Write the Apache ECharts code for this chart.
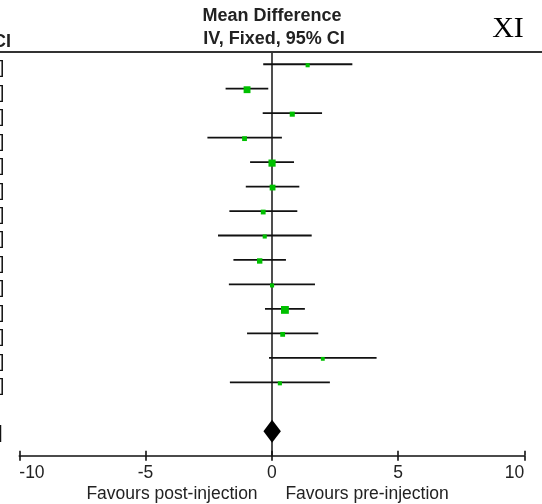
<!DOCTYPE html>
<html>
<head>
<meta charset="utf-8">
<script src="https://cdn.jsdelivr.net/npm/echarts@6/dist/echarts.min.js"></script>
<style>
  html, body { margin: 0; padding: 0; background: #fff; }
  #chart { width: 542px; height: 504px; }
</style>
</head>
<body>
<div id="chart"></div>
<script>
// Per-study mean differences (IV, fixed effect) with 95% CI bounds and weights (%)
const meanDiff = [1.42, -0.98, 0.81, -1.08, 0.01, 0.03, -0.34, -0.28, -0.48, 0.01, 0.52, 0.43, 2.02, 0.32];
const ciLower  = [-0.34, -1.83, -0.36, -2.55, -0.86, -1.03, -1.68, -2.13, -1.52, -1.70, -0.27, -0.98, -0.11, -1.66];
const ciUpper  = [3.19, -0.14, 1.99, 0.40, 0.88, 1.09, 1.01, 1.58, 0.56, 1.71, 1.31, 1.84, 4.15, 2.30];
const weights  = [4.2, 11.8, 6.5, 5.8, 12.8, 8.4, 5.8, 4.2, 7.3, 4.2, 15.4, 5.8, 3.7, 4.2];

// Pooled estimate
const totalMD = [0.01];
const totalLower = [-0.33];
const totalUpper = [0.36];

// Axis ticks and captions
const xTicks = [-10, -5, 0, 5, 10];
const favourLeft = 'Favours post-injection';
const favourRight = 'Favours pre-injection';
const plotTitle = ['Mean Difference', 'IV, Fixed, 95% CI'];
const panelTag = 'XI';

const FONT = '"Liberation Sans", Arial, Helvetica, sans-serif';
const GREEN = '#00c000';
const INK = '#111';
const TOTAL_ROW = meanDiff.length + 2;

const fmt = v => v.toFixed(2);
const ciText = (m, l, u) => `${fmt(m)} [${fmt(l)}, ${fmt(u)}]`;

const studyData = meanDiff.map((m, i) => [ciLower[i], ciUpper[i], m, weights[i], i + 1]);
const totalData = totalMD.map((m, i) => [totalLower[i], totalUpper[i], m, 100, TOTAL_ROW]);

const chart = echarts.init(document.getElementById('chart'), null, { renderer: 'canvas' });

// One study row: CI whisker, weighted square, and the estimate text in the left column
function renderStudy(params, api) {
  const row = api.value(4);
  const pLo = api.coord([api.value(0), row]);
  const pHi = api.coord([api.value(1), row]);
  const pMd = api.coord([api.value(2), row]);
  const s = 2 * Math.sqrt(api.value(3));
  return {
    type: 'group',
    children: [
      { type: 'line', shape: { x1: pLo[0], y1: pLo[1], x2: pHi[0], y2: pHi[1] },
        style: { stroke: INK, lineWidth: 1.8 } },
      { type: 'rect', shape: { x: pMd[0] - s / 2, y: pMd[1] - s / 2 + 1, width: s, height: s },
        style: { fill: GREEN } },
      { type: 'text', x: 4.3, y: pMd[1] + 4,
        style: { text: ciText(api.value(2), api.value(0), api.value(1)),
                 align: 'right', verticalAlign: 'middle',
                 font: '18px ' + FONT, fill: INK } }
    ]
  };
}

// Pooled row: diamond spanning the pooled CI
function renderTotal(params, api) {
  const row = api.value(4);
  const pLo = api.coord([api.value(0), row]);
  const pHi = api.coord([api.value(1), row]);
  const pMd = api.coord([api.value(2), row]);
  const h = 11.5;
  return {
    type: 'group',
    children: [
      { type: 'polygon',
        shape: { points: [[pLo[0], pMd[1]], [pMd[0], pMd[1] - h], [pHi[0], pMd[1]], [pMd[0], pMd[1] + h]] },
        style: { fill: '#000' } },
      { type: 'text', x: 2.2, y: pMd[1] + 2,
        style: { text: ciText(api.value(2), api.value(0), api.value(1)),
                 align: 'right', verticalAlign: 'middle',
                 font: 'bold 18px ' + FONT, fill: INK } }
    ]
  };
}

const xBase = {
  type: 'value', min: xTicks[0], max: xTicks[xTicks.length - 1],
  interval: xTicks[1] - xTicks[0], position: 'bottom', splitLine: { show: false }
};

chart.setOption({
  animation: false,
  backgroundColor: '#fff',
  grid: { left: 19.3, right: 17.7, top: 52, bottom: 48.3, containLabel: false },
  xAxis: [
    Object.assign({}, xBase, {
      axisLine: { show: true, onZero: false, lineStyle: { color: INK, width: 1.6 } },
      axisTick: { show: true, length: 5, lineStyle: { color: INK, width: 1.6 } },
      axisLabel: { show: true, fontSize: 17.5, color: '#222', fontFamily: FONT, margin: 8,
                   alignMinLabel: 'left', alignMaxLabel: 'right' }
    }),
    Object.assign({}, xBase, {
      axisLine: { show: false, onZero: false },
      axisTick: { show: true, inside: true, length: 5, lineStyle: { color: INK, width: 1.6 } },
      axisLabel: { show: false }
    })
  ],
  yAxis: {
    type: 'value', min: 0.5, max: TOTAL_ROW + 1, inverse: true,
    axisLine: { show: true, onZero: true, lineStyle: { color: '#222', width: 1.6 } },
    axisTick: { show: false }, axisLabel: { show: false }, splitLine: { show: false }
  },
  series: [
    { type: 'custom', name: 'studies', xAxisIndex: 0, renderItem: renderStudy,
      encode: { x: [0, 1, 2], y: 4 }, data: studyData, clip: false, z: 5 },
    { type: 'custom', name: 'total', xAxisIndex: 0, renderItem: renderTotal,
      encode: { x: [0, 1, 2], y: 4 }, data: totalData, clip: false, z: 5 }
  ],
  graphic: [
    { type: 'line', shape: { x1: 0, y1: 52, x2: 542, y2: 52 },
      style: { stroke: '#333', lineWidth: 2 }, z: 10 },
    { type: 'text', x: 272, y: 16.4,
      style: { text: plotTitle[0], align: 'center', verticalAlign: 'middle',
               font: 'bold 18px ' + FONT, fill: '#222' } },
    { type: 'text', x: 274, y: 39.4,
      style: { text: plotTitle[1], align: 'center', verticalAlign: 'middle',
               font: 'bold 18px ' + FONT, fill: '#222' } },
    { type: 'text', x: 11, y: 42,
      style: { text: plotTitle[1], align: 'right', verticalAlign: 'middle',
               font: 'bold 18px ' + FONT, fill: '#222' } },
    { type: 'text', x: 508, y: 29,
      style: { text: panelTag, align: 'center', verticalAlign: 'middle',
               font: '30px "Liberation Serif", "Times New Roman", serif', fill: '#000' } },
    { type: 'text', x: 257.6, y: 494.4,
      style: { text: favourLeft, align: 'right', verticalAlign: 'middle',
               font: '17.5px ' + FONT, fill: '#222' } },
    { type: 'text', x: 285.4, y: 494.4,
      style: { text: favourRight, align: 'left', verticalAlign: 'middle',
               font: '17.5px ' + FONT, fill: '#222' } }
  ]
});
</script>
</body>
</html>
